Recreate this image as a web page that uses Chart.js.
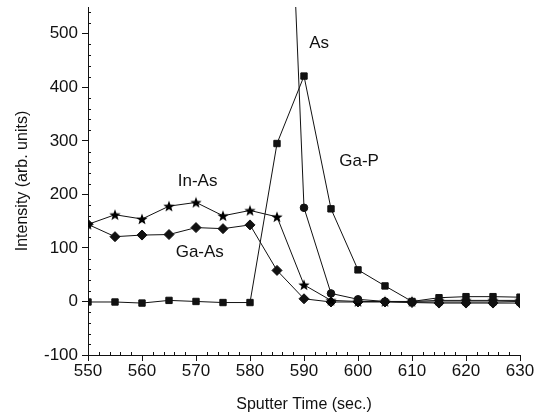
<!DOCTYPE html>
<html>
<head>
<meta charset="utf-8">
<script src="https://cdn.jsdelivr.net/npm/chart.js@4/dist/chart.umd.min.js"></script>
<style>
  html, body { margin: 0; padding: 0; background: #fff; }
  #wrap { width: 542px; height: 419px; }
</style>
</head>
<body>
<div id="wrap"><canvas id="line-chart" width="542" height="419"></canvas></div>
<script>
var times = [550, 555, 560, 565, 570, 575, 580, 585, 590, 595, 600, 605, 610, 615, 620, 625, 630];
var gaP  = [-1, -1, -3, 2, 0, -2, -2, 295, 421, 173, 59, 29, 0, 7, 9, 9, 8];
var asV  = [null, null, null, null, null, null, null, 1400, 175, 15, 4, 0, -1, -1, -1, -1, 0];
var inAs = [144, 162, 154, 178, 185, 160, 170, 158, 31, 2, 0, 0, 0, 2, 2, 2, 2];
var gaAs = [144, 121, 124, 125, 138, 136, 143, 58, 5, -1, -1, -1, -2, -3, -3, -3, -3];

var xTicks = [550, 560, 570, 580, 590, 600, 610, 620, 630];
var yTicks = [-100, 0, 100, 200, 300, 400, 500];

// series labels written in data units
var notes = [
  { text: "In-As", x: 570.3, y: 224 },
  { text: "Ga-As", x: 570.7, y: 92 },
  { text: "As", x: 592.8, y: 483 },
  { text: "Ga-P", x: 600.2, y: 261 }
];

function toPoints(vals) {
  var pts = [];
  for (var i = 0; i < times.length; i++) {
    if (vals[i] !== null) pts.push({ x: times[i], y: vals[i] });
  }
  return pts;
}

// filled five point star for the In-As symbol
function makeStar(size) {
  var c = document.createElement('canvas');
  c.width = size; c.height = size;
  var g = c.getContext('2d');
  var cx = size / 2, cy = size / 2 + 0.5, ro = size / 2, ri = ro * 0.42;
  g.beginPath();
  for (var k = 0; k < 10; k++) {
    var r = k % 2 === 0 ? ro : ri;
    var a = -Math.PI / 2 + k * Math.PI / 5;
    g.lineTo(cx + r * Math.cos(a), cy + r * Math.sin(a));
  }
  g.closePath();
  g.fillStyle = '#000';
  g.fill();
  return c;
}
var star = makeStar(12);

var ink = '#111';
var FONT = "'Liberation Sans', Arial, sans-serif";

var minorTicks = {
  id: 'minorTicks',
  afterDraw: function (chart) {
    var ctx = chart.ctx, xs = chart.scales.x, ys = chart.scales.y;
    var area = chart.chartArea;
    ctx.save();
    ctx.strokeStyle = ink;
    ctx.lineWidth = 1;
    ctx.beginPath();
    for (var v = 550; v <= 630; v += 2) {
      if (v % 10 === 0) continue;
      var px = Math.round(xs.getPixelForValue(v)) + 0.5;
      ctx.moveTo(px, area.bottom);
      ctx.lineTo(px, area.bottom - 3);
    }
    for (var w = -100; w <= 540; w += 20) {
      if (w % 100 === 0) continue;
      var py = Math.round(ys.getPixelForValue(w)) + 0.5;
      ctx.moveTo(area.left, py);
      ctx.lineTo(area.left + 3, py);
    }
    ctx.stroke();
    ctx.restore();
  }
};

var seriesNotes = {
  id: 'seriesNotes',
  afterDatasetsDraw: function (chart) {
    var ctx = chart.ctx, xs = chart.scales.x, ys = chart.scales.y;
    ctx.save();
    ctx.fillStyle = ink;
    ctx.font = '17px ' + FONT;
    ctx.textAlign = 'center';
    ctx.textBaseline = 'middle';
    notes.forEach(function (n) {
      ctx.fillText(n.text, xs.getPixelForValue(n.x), ys.getPixelForValue(n.y));
    });
    ctx.restore();
  }
};

function series(label, vals, style, radius) {
  return {
    label: label,
    data: toPoints(vals),
    borderColor: ink,
    borderWidth: 1,
    backgroundColor: ink,
    pointStyle: style,
    pointRadius: radius,
    pointBorderWidth: 1,
    pointBorderColor: ink,
    pointBackgroundColor: ink,
    tension: 0
  };
}

var ctx = document.getElementById('line-chart').getContext('2d');
var myChart = new Chart(ctx, {
  type: 'line',
  data: {
    datasets: [
      series('Ga-P', gaP, 'rect', 4.5),
      series('As', asV, 'circle', 3.8),
      series('In-As', inAs, star, 6),
      series('Ga-As', gaAs, 'rectRot', 5)
    ]
  },
  options: {
    responsive: false,
    animation: false,
    layout: { padding: { left: 0, right: 22, top: 1, bottom: 1 } },
    plugins: { legend: { display: false }, tooltip: { enabled: false } },
    scales: {
      x: {
        type: 'linear',
        min: 550, max: 630,
        afterBuildTicks: function (s) { s.ticks = xTicks.map(function (v) { return { value: v }; }); },
        afterFit: function (s) { s.height = 63; s.paddingLeft = 0; s.paddingRight = 0; },
        grid: { drawOnChartArea: false, drawTicks: true, tickLength: 6, color: ink },
        border: { display: true, color: ink, width: 1 },
        ticks: { color: ink, font: { family: FONT, size: 17 }, padding: 0, maxRotation: 0 },
        title: { display: true, text: 'Sputter Time (sec.)', color: ink, font: { family: FONT, size: 16 }, padding: { top: 4, bottom: 4 } }
      },
      y: {
        min: -100, max: 550,
        afterBuildTicks: function (s) { s.ticks = yTicks.map(function (v) { return { value: v }; }); },
        afterFit: function (s) { s.width = 88; s.paddingTop = 0; s.paddingBottom = 0; },
        grid: { drawOnChartArea: false, drawTicks: true, tickLength: 6, color: ink },
        border: { display: true, color: ink, width: 1 },
        ticks: { color: ink, font: { family: FONT, size: 17 }, padding: 4 },
        title: { display: true, text: 'Intensity (arb. units)', color: ink, font: { family: FONT, size: 16 }, padding: { top: 13, bottom: 0 } }
      }
    }
  },
  plugins: [minorTicks, seriesNotes]
});
</script>
</body>
</html>
